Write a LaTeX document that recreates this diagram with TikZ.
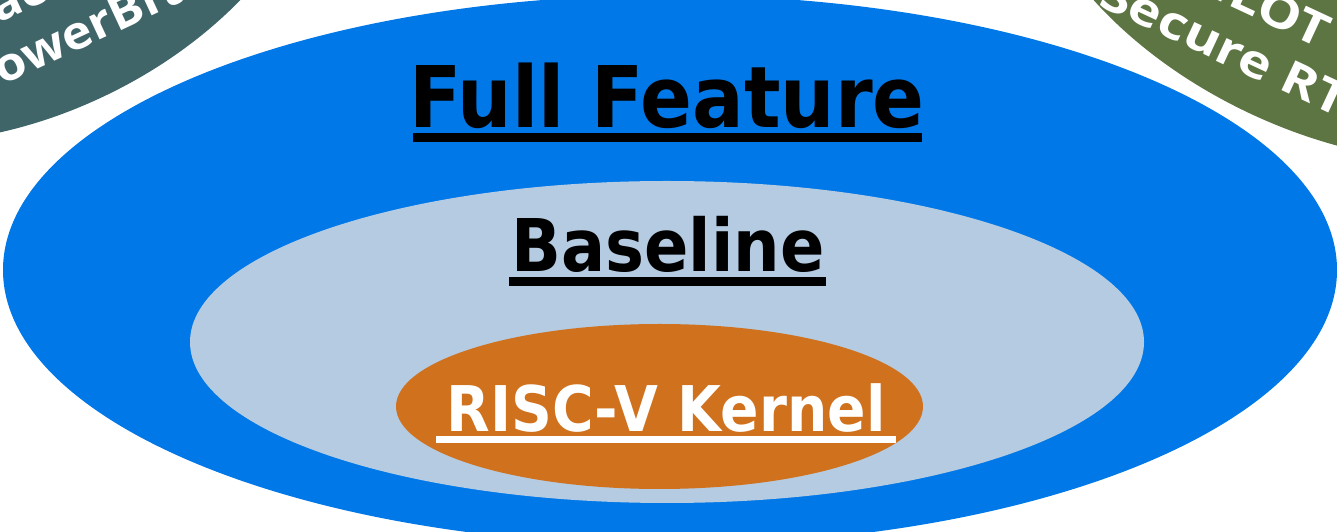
\documentclass[tikz,border=0pt]{standalone}
\usepackage{fontspec}
\usepackage{graphicx}
\newfontfamily\dvsans{DejaVu Sans}
\newfontfamily\osans{Open Sans}
\definecolor{fullblue}{HTML}{0078E8}
\definecolor{baseblue}{HTML}{B4CBE2}
\definecolor{kernelorange}{HTML}{D0711E}
\definecolor{cornerteal}{HTML}{3F6569}
\definecolor{cornergreen}{HTML}{5C7543}
\tikzset{
  title/.style={anchor=base, inner sep=0pt, font=\dvsans\bfseries},
  cornertext/.style={anchor=base west, inner sep=0pt, text=white, font=\osans\bfseries\fontsize{46}{55}\selectfont},
}
\begin{document}
\begin{tikzpicture}[x=1pt,y=1pt]
\useasboundingbox (0,0) rectangle (1337,532);
\clip (0,0) rectangle (1337,532);
% corner ellipses
\fill[cornerteal, rotate around={25:(-8,667)}] (-8,667) ellipse [x radius=360, y radius=257];
\fill[cornergreen, rotate around={-25:(1341,610)}] (1341,610) ellipse [x radius=340, y radius=212];
\node[cornertext, rotate=25] (tl1) at (-46,488) {\scalebox{1.1}[1]{Trace}};
\node[cornertext, rotate=25] (tl2) at (-26,433) {\scalebox{1.1}[1]{PowerBrake}};
\node[cornertext, rotate=-25] (tr1) at (1178,550) {\scalebox{1.2}[1]{PILOT \&}};
\node[cornertext, rotate=-25] (tr2) at (1097,527) {\scalebox{1.2}[1]{Secure RTOS}};
% nested ellipses
\fill[fullblue] (670,262) ellipse [x radius=667, y radius=275];
\fill[baseblue] (667,190) ellipse [x radius=477, y radius=161];
\fill[kernelorange] (659.5,125.5) ellipse [x radius=263.5, y radius=82.5];
% titles
\node[title, font=\dvsans\bfseries\fontsize{85}{100}\selectfont] (full) at (667,404) {\scalebox{0.9}[1]{Full Feature}};
\fill[black] (413,390) rectangle (922,399);
\node[title, font=\dvsans\bfseries\fontsize{72.7}{86}\selectfont] (base) at (668,260) {\scalebox{0.9}[1]{Baseline}};
\fill[black] (509,246) rectangle (826,255);
\node[title, text=white, font=\dvsans\bfseries\fontsize{63}{75}\selectfont] (kernel) at (666,100) {\scalebox{0.9}[1]{RISC-V Kernel}};
\fill[white] (436,89) rectangle (896,96);
\end{tikzpicture}
\end{document}
